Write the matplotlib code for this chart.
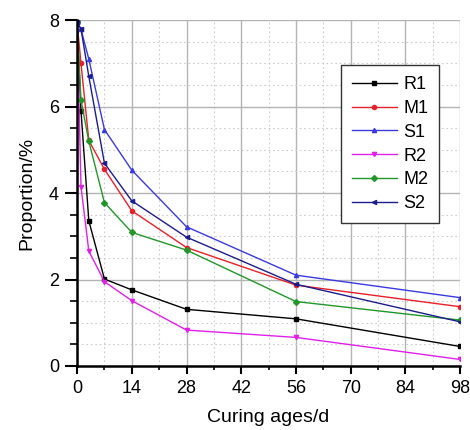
import matplotlib
matplotlib.use("Agg")
import matplotlib.pyplot as plt
from matplotlib.ticker import MultipleLocator

plt.rcParams['font.family'] = ['Liberation Sans', 'DejaVu Sans']

days = [0, 1, 3, 7, 14, 28, 56, 98]
r1 = [7.95, 5.9, 3.36, 2.01, 1.76, 1.31, 1.09, 0.45]
m1 = [7.95, 7.0, 5.22, 4.55, 3.59, 2.74, 1.87, 1.37]
s1 = [7.95, 7.79, 7.10, 5.47, 4.53, 3.22, 2.10, 1.58]
r2 = [7.95, 4.15, 2.66, 1.95, 1.51, 0.83, 0.66, 0.15]
m2 = [7.95, 6.15, 5.20, 3.78, 3.09, 2.68, 1.49, 1.06]
s2 = [7.95, 7.80, 6.70, 4.69, 3.82, 2.98, 1.89, 1.02]

series = [
    ("R1", r1, "black", "s"),
    ("M1", m1, "#e8202a", "o"),
    ("S1", s1, "#3a3ae0", "^"),
    ("R2", r2, "#e020e8", "v"),
    ("M2", m2, "#22962a", "D"),
    ("S2", s2, "#1c1c8c", "<"),
]

fig = plt.figure(figsize=(4.7, 4.3), dpi=100)
ax = fig.add_axes([0.164, 0.149, 0.815, 0.804])

for name, vals, col, mk in series:
    ax.plot(days, vals, color=col, marker=mk, markersize=3, lw=1.0, label=name)

ax.set_xlim(0, 98)
ax.set_ylim(0, 8)
ax.xaxis.set_major_locator(MultipleLocator(14))
ax.xaxis.set_minor_locator(MultipleLocator(7))
ax.yaxis.set_major_locator(MultipleLocator(2))
ax.yaxis.set_minor_locator(MultipleLocator(0.5))
ax.grid(which='major', color='#b4b4b4', lw=1.0, ls='-')
ax.grid(which='minor', color='#cccccc', lw=0.8, ls=(0, (1.5, 2.5)))
ax.set_axisbelow(True)

for s in ['top', 'right']:
    ax.spines[s].set_visible(False)
for s in ['left', 'bottom']:
    ax.spines[s].set_linewidth(1.8)

ax.tick_params(axis='y', which='major', length=9, width=1.5, labelsize=13, pad=4)
ax.tick_params(axis='y', which='minor', length=5, width=1.2)
ax.tick_params(axis='x', which='major', length=6, width=1.5, labelsize=13, pad=4)
ax.tick_params(axis='x', which='minor', length=3, width=1.2)

ax.set_xlabel("Curing ages/d", fontsize=14, labelpad=9)
ax.set_ylabel("Proportion/%", fontsize=14, labelpad=10)

leg = ax.legend(loc='upper left', bbox_to_anchor=(0.689, 0.87), fontsize=13,
                fancybox=False, framealpha=1, edgecolor='#333333',
                labelspacing=0.38, handlelength=2.5, handletextpad=0.35,
                borderpad=0.6, borderaxespad=0)
leg.get_frame().set_linewidth(1.0)

fig.savefig("out.png", dpi=100)
